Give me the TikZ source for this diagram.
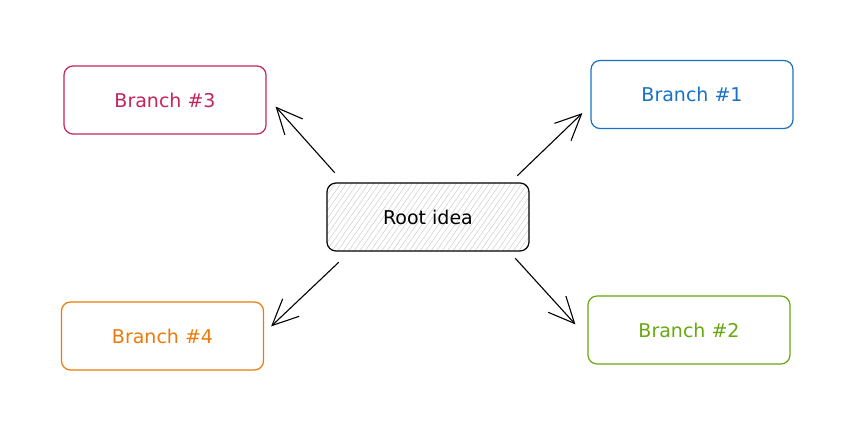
\documentclass[tikz,border=0pt]{standalone}
\usepackage{fontspec}
\setmainfont{DejaVu Sans}
\usetikzlibrary{arrows.meta,patterns.meta}
\definecolor{branchblue}{HTML}{1971C2}
\definecolor{branchgreen}{HTML}{66A80F}
\definecolor{branchred}{HTML}{C2255C}
\definecolor{branchorange}{HTML}{EC7A0A}
\begin{document}
\begin{tikzpicture}[x=1pt,y=-1pt,font=\fontsize{19}{22}\selectfont,
  idea/.style={draw,line width=1.2pt,rounded corners=9pt,minimum width=202pt,minimum height=68pt,inner sep=0pt},
  link/.style={line width=1.1pt,-{Straight Barb[length=26pt,width=24pt,line width=1.1pt]}}]
\useasboundingbox (0,0) rectangle (852,435);
\node[idea,pattern={Lines[angle=55,distance=4.5pt,line width=.5pt]},pattern color=gray!40] (root) at (428,217) {Root idea};
\node[idea,draw=branchblue,text=branchblue] (b1) at (692,94.5) {Branch \#1};
\node[idea,draw=branchgreen,text=branchgreen] (b2) at (689,330) {Branch \#2};
\node[idea,draw=branchred,text=branchred] (b3) at (165,100) {Branch \#3};
\node[idea,draw=branchorange,text=branchorange] (b4) at (162.5,336) {Branch \#4};
\draw[link] ([shift={(-12pt,7pt)}]root.north east) -- ([shift={(-8pt,16pt)}]b1.south west);
\draw[link] ([shift={(-14pt,-7pt)}]root.south east) -- ([shift={(-12pt,-29pt)}]b2.north west);
\draw[link] ([shift={(8pt,10pt)}]root.north west) -- ([shift={(9pt,28pt)}]b3.south east);
\draw[link] ([shift={(12pt,-11pt)}]root.south west) -- ([shift={(7pt,-25pt)}]b4.north east);
\end{tikzpicture}
\end{document}
